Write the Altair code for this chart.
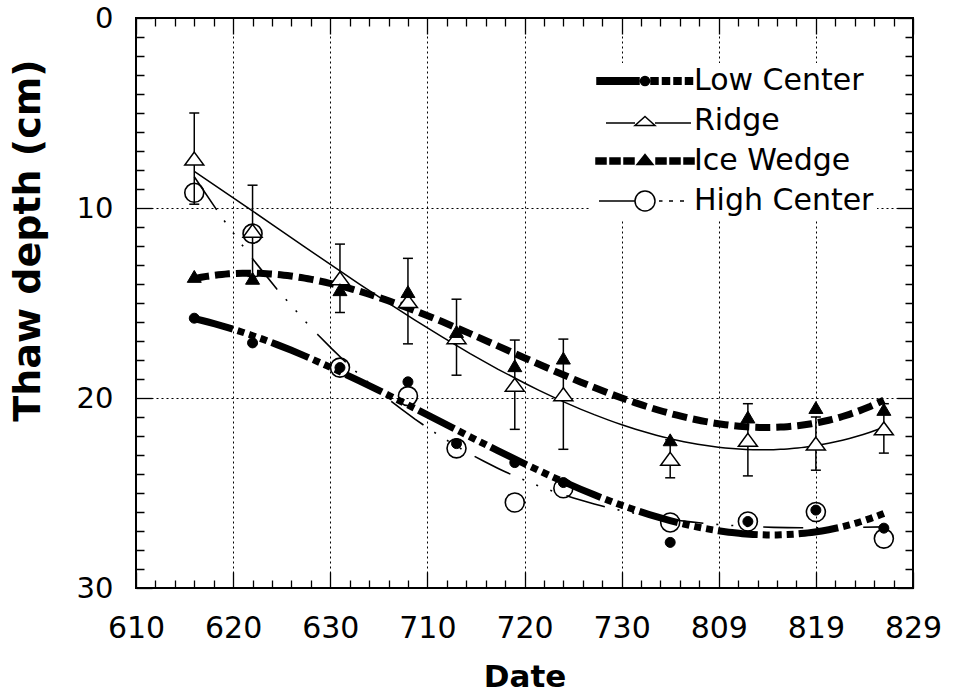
import json
import altair as alt
import pandas as pd

# ---------------- data ----------------
tick_days = [0, 10, 20, 30, 40, 50, 60, 70, 80]          # days after 10 June
tick_labels = ["610", "620", "630", "710", "720", "730", "809", "819", "829"]
days = [6, 12, 21, 28, 33, 39, 44, 55, 63, 70, 77]
low_center = [15.8, 17.1, 18.4, 19.15, 22.4, 23.4, 24.45, 27.6, 26.5, 25.9, 26.85]
ridge = [7.4, 11.2, 13.7, 14.9, 16.8, 19.3, 19.8, 23.2, 22.2, 22.4, 21.6]
ridge_err = [2.4, 2.4, 1.8, 2.25, 2.0, 2.35, 2.9, 1.0, 1.9, 1.4, 1.3]
ice_wedge = [13.6, 13.7, 14.3, 14.4, 16.5, 18.3, 17.9, 22.2, 21.0, 20.5, 20.6]
high_center = [9.2, 11.35, 18.4, 19.9, 22.65, 25.5, 24.75, 26.55, 26.5, 26.0, 27.4]
series_names = ["Low Center", "Ridge", "Ice Wedge", "High Center"]

FONT = "DejaVu Sans"

def frame(vals):
    return pd.DataFrame({"day": days, "depth": vals})

df_lc = frame(low_center)
df_r = frame(ridge)
df_iw = frame(ice_wedge)
df_hc = frame(high_center)
df_err = pd.DataFrame({
    "day": days,
    "lo": [v - e for v, e in zip(ridge, ridge_err)],
    "hi": [v + e for v, e in zip(ridge, ridge_err)],
})

xs = alt.Scale(domain=[tick_days[0], tick_days[-1]], nice=False, zero=False)
ys = alt.Scale(domain=[0, 30], reverse=True, nice=False, zero=False)

x_minor = list(range(0, 81, 2))
y_minor = list(range(0, 31, 1))
major_test = "datum.value % 10 === 0"
tick_dash = {"condition": {"test": major_test, "value": [100, 0]}, "value": [0, 8, 8, 100]}
grid_op = {"condition": {"test": major_test, "value": 1}, "value": 0}

common_axis = dict(
    offset=-16, tickSize=16, tickWidth=1.3, tickColor="black", tickDash=tick_dash,
    domain=False, labelFont=FONT, labelColor="black", labelOverlap=False,
    labelFlush=False, labelBound=False,
)

x_bottom = alt.Axis(
    orient="bottom", values=x_minor, grid=True, gridColor="black", gridDash=[2, 3],
    gridWidth=1, gridOpacity=grid_op,
    labelExpr=f"{major_test} ? {json.dumps(tick_labels)}[datum.value / 10] : ''",
    labelFontSize=30, labelPadding=25,
    title="Date", titleFont=FONT, titleFontSize=31, titleFontWeight="bold",
    titleColor="black", titlePadding=19, **common_axis,
)
y_left = alt.Axis(
    orient="left", values=y_minor, grid=True, gridColor="black", gridDash=[2, 3],
    gridWidth=1, gridOpacity=grid_op,
    labelExpr=f"{major_test} ? datum.label : ''",
    labelFontSize=29, labelPadding=23,
    title="Thaw  depth  (cm)", titleFont=FONT, titleFontSize=38, titleFontWeight="bold",
    titleColor="black", titlePadding=29, titleY=222,
    **common_axis,
)
x_top = alt.Axis(orient="top", values=x_minor, labels=False, grid=False, title=None, **common_axis)
y_right = alt.Axis(orient="right", values=y_minor, labels=False, grid=False, title=None, **common_axis)


def fit_line(df, xaxis, yaxis, **mark):
    return alt.Chart(df).transform_regression(
        "day", "depth", method="poly", order=3
    ).mark_line(color="black", strokeCap="butt", **mark).encode(
        x=alt.X("day:Q", scale=xs, axis=xaxis),
        y=alt.Y("depth:Q", scale=ys, axis=yaxis),
    )


hc_line = fit_line(df_hc, x_bottom, y_left, strokeWidth=1.6,
                   strokeDash=[40, 13, 2, 13, 2, 13, 2, 15])
r_line = fit_line(df_r, x_top, y_right, strokeWidth=1.5)
iw_line = fit_line(df_iw, None, None, strokeWidth=7, strokeDash=[15, 6])
lc_line = fit_line(df_lc, None, None, strokeWidth=7, strokeDash=[40, 5, 7, 5, 7, 5, 7, 5])

err_rule = alt.Chart(df_err).mark_rule(color="black", strokeWidth=1.5).encode(
    x=alt.X("day:Q", scale=xs, axis=None),
    y=alt.Y("lo:Q", scale=ys, axis=None),
    y2="hi:Q",
)
cap_lo = alt.Chart(df_err).mark_tick(color="black", orient="horizontal", size=10,
                                     thickness=1.5, opacity=1).encode(
    x=alt.X("day:Q", scale=xs, axis=None),
    y=alt.Y("lo:Q", scale=ys, axis=None),
)
cap_hi = alt.Chart(df_err).mark_tick(color="black", orient="horizontal", size=10,
                                     thickness=1.5, opacity=1).encode(
    x=alt.X("day:Q", scale=xs, axis=None),
    y=alt.Y("hi:Q", scale=ys, axis=None),
)

TRI_RIDGE = "M0,-0.68L1,0.68L-1,0.68Z"
TRI_ICE = "M0,-0.85L1,0.85L-1,0.85Z"


def pts(df, **mark):
    return alt.Chart(df).mark_point(opacity=1, **mark).encode(
        x=alt.X("day:Q", scale=xs, axis=None),
        y=alt.Y("depth:Q", scale=ys, axis=None),
    )


r_pts = pts(df_r, shape=TRI_RIDGE, size=361, filled=True, fill="white",
            stroke="black", strokeWidth=1.5)
iw_pts = pts(df_iw, shape=TRI_ICE, size=196, filled=True, fill="black",
             stroke="black", strokeWidth=1)
lc_pts = pts(df_lc, shape="circle", size=100, filled=True, fill="black",
             stroke="black", strokeWidth=1)
hc_pts = pts(df_hc, shape="circle", size=361, filled=False, color="black",
             strokeWidth=1.6)

# ---------------- legend (line + marker symbols) ----------------
def rect(a, b, h):
    return f"M{a},{-h}L{b},{-h}L{b},{h}L{a},{h}Z"

def circ(cx, r):
    return (f"M{cx + r},0A{r},{r} 0 1,1 {cx - r},0A{r},{r} 0 1,1 {cx + r},0Z")

path_lc = (rect(-4.8, -0.6, 0.33) + circ(0, 0.45)
           + rect(0.6, 1.3, 0.33) + rect(1.75, 2.45, 0.33)
           + rect(2.9, 3.6, 0.33) + rect(4.05, 4.75, 0.33))
path_r = "M-3.9,0.2L-1.0,0.2M1.0,0.2L4.6,0.2M0,-0.45L1.0,0.45L-1.0,0.45Z"
path_iw = (rect(-4.9, -3.9, 0.3) + rect(-3.5, -2.5, 0.3) + rect(-2.1, -1.1, 0.3)
           + "M0,-0.65L0.8,0.35L-0.8,0.35Z"
           + rect(1.1, 2.1, 0.3) + rect(2.5, 3.5, 0.3) + rect(3.9, 4.9, 0.3))
path_hc = ("M-4.6,0L-1.0,0" + circ(0, 1.0)
           + "M1.4,0L1.75,0M2.4,0L2.8,0M3.5,0L3.9,0")
legend_paths = [path_lc, path_r, path_iw, path_hc]
legend_fills = ["black", "white", "black", "white"]
legend_strokes = ["black", "black", "black", "black"]

leg = alt.Legend(
    title=None, orient="none", legendX=454, legendY=45, fillColor="white",
    padding=3, labelFont=FONT, labelFontSize=30, labelColor="black", labelLimit=400,
    symbolSize=400, symbolStrokeWidth=1.5, symbolStrokeColor="black",
    symbolOffset=37, labelOffset=34, rowPadding=10, symbolOpacity=1,
)
legend_layer = alt.Chart(pd.DataFrame({"series": series_names})).transform_filter(
    "false"
).mark_point(filled=True, strokeWidth=1.5, opacity=1).encode(
    shape=alt.Shape("series:N", scale=alt.Scale(domain=series_names, range=legend_paths), legend=leg),
    fill=alt.Fill("series:N", scale=alt.Scale(domain=series_names, range=legend_fills), legend=leg),
    stroke=alt.Stroke("series:N", scale=alt.Scale(domain=series_names, range=legend_strokes), legend=leg),
)

chart = alt.layer(
    hc_line, r_line, iw_line, lc_line,
    err_rule, cap_lo, cap_hi,
    r_pts, iw_pts, lc_pts, hc_pts,
    legend_layer,
).resolve_axis(
    x="independent", y="independent"
).properties(
    width=777, height=570,
    padding={"left": 136, "top": 18, "right": 43, "bottom": 108},
    autosize=alt.AutoSizeParams(type="none"),
    background="white",
).configure_view(stroke="black", strokeWidth=2)

chart.save("out.html", embed_options={"renderer": "svg", "actions": False})
